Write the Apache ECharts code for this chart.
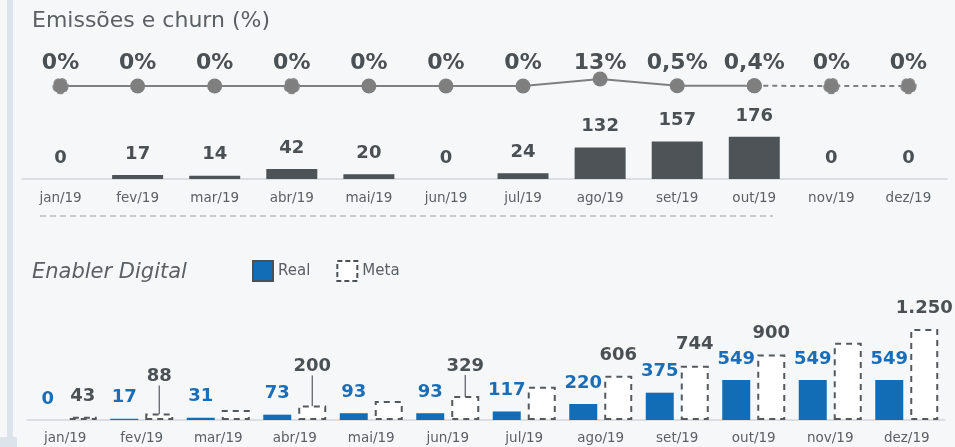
<!DOCTYPE html>
<html>
<head>
<meta charset="utf-8">
<script src="https://cdn.jsdelivr.net/npm/echarts@6/dist/echarts.min.js"></script>
<style>
  html, body { margin: 0; padding: 0; background: #f6f7f9; }
  #chart { width: 955px; height: 447px; }
</style>
</head>
<body>
<div id="chart"></div>
<script>
  'use strict';

  var meses = ['jan/19', 'fev/19', 'mar/19', 'abr/19', 'mai/19', 'jun/19',
    'jul/19', 'ago/19', 'set/19', 'out/19', 'nov/19', 'dez/19'];

  // Emissões (barras) e churn (%)
  var emissoes = [0, 17, 14, 42, 20, 0, 24, 132, 157, 176, 0, 0];
  var churn = [0, 0, 0, 0, 0, 0, 0, 13, 0.5, 0.4, 0, 0];
  var ultimoReal = 9; // out/19: depois disso a linha fica tracejada

  // Enabler Digital
  var real = [0, 17, 31, 73, 93, 93, 117, 220, 375, 549, 549, 549];
  var meta = [43, 88, 137, 200, 261, 329, 457, 606, 744, 900, 1062, 1250];
  var metaSemRotulo = [2, 4, 6, 10];

  var textColor = '#4b5055',
    font = 'DejaVu Sans',
    lineTop = 70;

  function fmtPct(v) {
    return String(v).replace('.', ',') + '%';
  }

  function fmtMil(v) {
    return String(v).replace(/\B(?=(\d{3})+(?!\d))/g, '.');
  }

  var dom = document.getElementById('chart');
  var chart = echarts.init(dom, null, { renderer: 'canvas' });

  var linhaSolida = churn.map(function(v, i) { return i <= ultimoReal ? v : null; });
  var linhaTracejada = churn.map(function(v, i) { return i >= ultimoReal ? v : null; });

  // pontos com borda tracejada
  var pontoTracejado = [0, 3, 10, 11];
  function ponto(v, i) {
    if (v === null) {
      return v;
    }
    if (pontoTracejado.indexOf(i) >= 0) {
      return { value: v, itemStyle: { borderType: 'dashed', borderColor: '#8a8a8a', borderWidth: 1.5 } };
    }
    return v;
  }

  // rótulos de % todos na mesma altura, centrados no ponto
  function pctLayout(params) {
    return {
      x: params.rect.x + params.rect.width / 2,
      y: lineTop - 7,
      align: 'center',
      verticalAlign: 'middle'
    };
  }

  // rótulos da meta deslocados para cima, com linha de chamada
  var metaDy = { 1: -16, 3: -18, 5: -9 };

  var options = {
    backgroundColor: '#f6f7f9',
    animation: false,
    textStyle: { fontFamily: font },
    title: [{
      text: 'Emissões e churn (%)',
      left: 27, top: 5,
      textStyle: { fontFamily: font, fontSize: 22, fontWeight: 'normal', color: '#5b6065' }
    }, {
      text: 'Enabler Digital',
      left: 27, top: 257,
      textStyle: { fontFamily: font, fontSize: 21, fontWeight: 'normal', fontStyle: 'italic', color: '#5b6065' }
    }],
    legend: {
      left: 247, top: 255,
      icon: 'rect',
      itemWidth: 20, itemHeight: 20, itemGap: 26,
      textStyle: { fontFamily: font, fontSize: 15, color: '#5b6065' },
      data: [
        { name: 'Real', itemStyle: { borderColor: '#4b5055', borderWidth: 2 } },
        { name: 'Meta', itemStyle: { color: '#ffffff', borderColor: '#4b5055', borderWidth: 2, borderType: [5, 3] } }
      ]
    },
    graphic: [
      { type: 'rect', shape: { x: 7, y: 0, width: 6, height: 437 }, style: { fill: '#dde3ea' } },
      { type: 'rect', shape: { x: 0, y: 437, width: 17, height: 10 }, style: { fill: '#dde3ea' } },
      { type: 'line', shape: { x1: 40, y1: 216, x2: 773, y2: 216 },
        style: { stroke: '#9a9ea3', lineWidth: 1, lineDash: [6, 4] } }
    ],
    grid: [
      { left: 22, right: 8, top: 100, bottom: 268 },
      { left: 22, right: 8, top: lineTop, bottom: 361 },
      { left: 27, right: 10, top: 310, bottom: 27 }
    ],
    xAxis: [{
      type: 'category', gridIndex: 0, data: meses,
      axisLine: { lineStyle: { color: '#d3d6da', width: 1.5 } },
      axisTick: { show: false },
      axisLabel: { color: '#5b6065', fontFamily: font, fontSize: 13.5, margin: 12 }
    }, {
      type: 'category', gridIndex: 1, data: meses,
      axisLine: { show: false }, axisTick: { show: false }, axisLabel: { show: false }
    }, {
      type: 'category', gridIndex: 2, data: meses,
      axisLine: { lineStyle: { color: '#d3d6da', width: 1.5 } },
      axisTick: { show: false },
      axisLabel: { color: '#5b6065', fontFamily: font, fontSize: 13.5, margin: 11 }
    }],
    yAxis: [
      { type: 'value', gridIndex: 0, min: 0, max: 330, show: false },
      { type: 'value', gridIndex: 1, min: 0, max: 30, show: false },
      { type: 'value', gridIndex: 2, min: 0, max: 1510, show: false }
    ],
    series: [{
      name: 'Emissões',
      type: 'bar',
      xAxisIndex: 0, yAxisIndex: 0,
      data: emissoes,
      barWidth: 51,
      itemStyle: { color: '#4e5358' },
      label: {
        show: true, position: 'top', distance: 12,
        color: textColor, fontFamily: font, fontWeight: 'bold', fontSize: 18
      }
    }, {
      name: 'Churn',
      type: 'line',
      xAxisIndex: 1, yAxisIndex: 1,
      data: linhaSolida.map(ponto),
      symbol: 'circle', symbolSize: 15,
      lineStyle: { color: '#7f7f7f', width: 2 },
      itemStyle: { color: '#7f7f7f' },
      label: {
        show: true, position: 'top', color: textColor, fontFamily: font,
        fontWeight: 'bold', fontSize: 22,
        formatter: function(p) { return fmtPct(p.value); }
      },
      labelLayout: pctLayout
    }, {
      name: 'Churn projetado',
      type: 'line',
      xAxisIndex: 1, yAxisIndex: 1,
      data: linhaTracejada.map(function(v, i) { return i === ultimoReal ? v : ponto(v, i); }),
      symbol: 'circle', symbolSize: 15,
      lineStyle: { color: '#7f7f7f', width: 2, type: [5, 4] },
      itemStyle: { color: '#7f7f7f' },
      label: {
        show: true, position: 'top', color: textColor, fontFamily: font,
        fontWeight: 'bold', fontSize: 22,
        formatter: function(p) { return p.dataIndex === ultimoReal ? '' : fmtPct(p.value); }
      },
      labelLayout: pctLayout
    }, {
      name: 'Real',
      type: 'bar',
      xAxisIndex: 2, yAxisIndex: 2,
      data: real,
      barWidth: 28,
      barGap: '25%',
      itemStyle: { color: '#126db6' },
      label: {
        show: true, position: 'top', distance: 12,
        color: '#1a6eb8', fontFamily: font, fontWeight: 'bold', fontSize: 18
      }
    }, {
      name: 'Meta',
      type: 'bar',
      xAxisIndex: 2, yAxisIndex: 2,
      data: meta.map(function(v, i) {
        if (metaSemRotulo.indexOf(i) >= 0) {
          return { value: v, label: { show: false } };
        }
        if (metaDy[i]) {
          return { value: v, labelLine: { show: true } };
        }
        return v;
      }),
      barWidth: 28,
      itemStyle: { color: '#ffffff', borderColor: '#55595e', borderWidth: 2, borderType: [6, 5] },
      label: {
        show: true, position: 'top', distance: 12,
        color: textColor, fontFamily: font, fontWeight: 'bold', fontSize: 18,
        formatter: function(p) { return fmtMil(p.value); }
      },
      labelLine: { lineStyle: { color: '#55595e', width: 1.2 } },
      labelLayout: function(params) {
        var dy = metaDy[params.dataIndex];
        return dy ? { dy: dy } : {};
      }
    }]
  };

  chart.setOption(options);
</script>
</body>
</html>
